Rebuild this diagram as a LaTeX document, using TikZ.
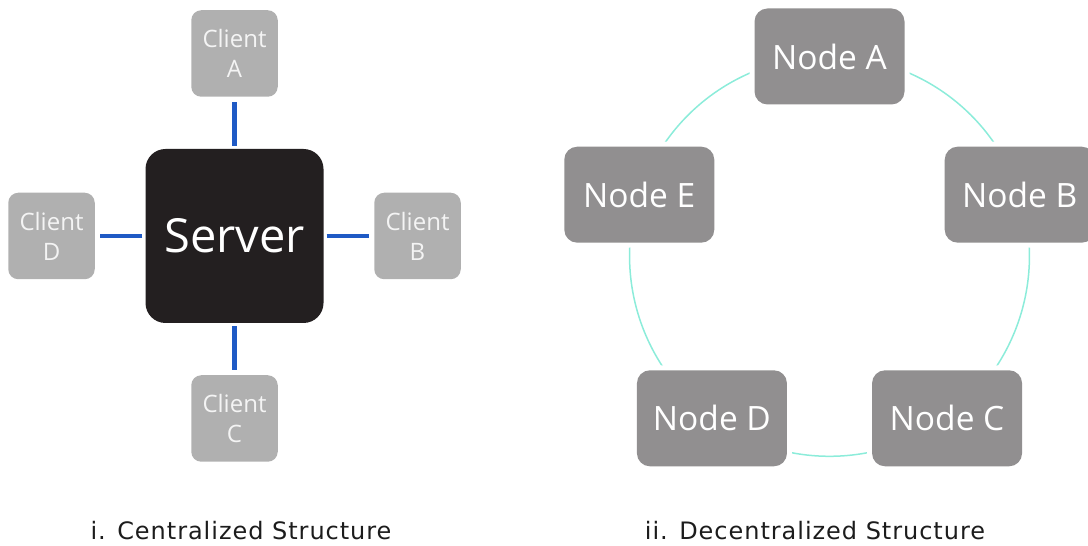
\documentclass[tikz,border=0pt]{standalone}
\usepackage{fontspec}
\setmainfont{Open Sans}
\newfontfamily\capfont[LetterSpace=4]{DejaVu Sans}
\usetikzlibrary{backgrounds}

\definecolor{srvfill}{RGB}{35,31,32}
\definecolor{clifill}{RGB}{176,176,176}
\definecolor{clitext}{RGB}{244,244,244}
\definecolor{linkblue}{RGB}{31,90,197}
\definecolor{peerfill}{RGB}{145,143,144}
\definecolor{ringcol}{RGB}{140,236,218}
\definecolor{captext}{RGB}{28,28,28}

\begin{document}
\begin{tikzpicture}[x=1pt,y=1pt,
  server/.style={fill=srvfill,text=white,rounded corners=20pt,minimum width=178pt,minimum height=174pt,inner sep=0pt,font=\fontsize{47}{56}\selectfont},
  client/.style={fill=clifill,text=clitext,rounded corners=10pt,minimum size=86.5pt,inner sep=0pt,align=center,font=\fontsize{24}{30}\selectfont},
  peer/.style={fill=peerfill,text=white,rounded corners=13pt,minimum width=150pt,minimum height=96pt,inner sep=0pt,font=\fontsize{33.5}{40}\selectfont,preaction={draw=white,line width=10pt}},
  link/.style={draw=linkblue,line width=4.5pt,shorten <=3pt,shorten >=5pt},
  ring/.style={draw=ringcol,line width=1.5pt,bend left=36,looseness=0.94},
  caption/.style={anchor=base,text=captext,font=\capfont\fontsize{24}{28}\selectfont}]
\useasboundingbox (0,0) rectangle (1088,546);

\node[server] (srv) at (234.5,310) {Server};
\node[client] (cA) at (234.5,492.5) {Client\\A};
\node[client] (cB) at (417.5,310) {Client\\B};
\node[client] (cC) at (234.5,127.5) {Client\\C};
\node[client] (cD) at (51.5,310) {Client\\D};

\foreach \c in {cA,cB,cC,cD}
\draw[link] (srv)--(\c);

% sredisce kroga
\coordinate (mid) at (829.5,289.5);

\foreach \name/\ang in {A/90,B/18,C/-54,D/-126,E/162}
\node[peer] (\name) at ([shift={(mid)}]\ang:200) {Node \name};

\begin{scope}[on background layer]
\foreach \a/\b in {A/B,B/C,C/D,D/E,E/A}
\draw[ring] (\a.center) to (\b.center);
\end{scope}

\node[caption] (cap1) at (241,6.5) {i. Centralized Structure};
\node[caption] (cap2) at (815,6.5) {ii. Decentralized Structure};
\end{tikzpicture}
\end{document}
